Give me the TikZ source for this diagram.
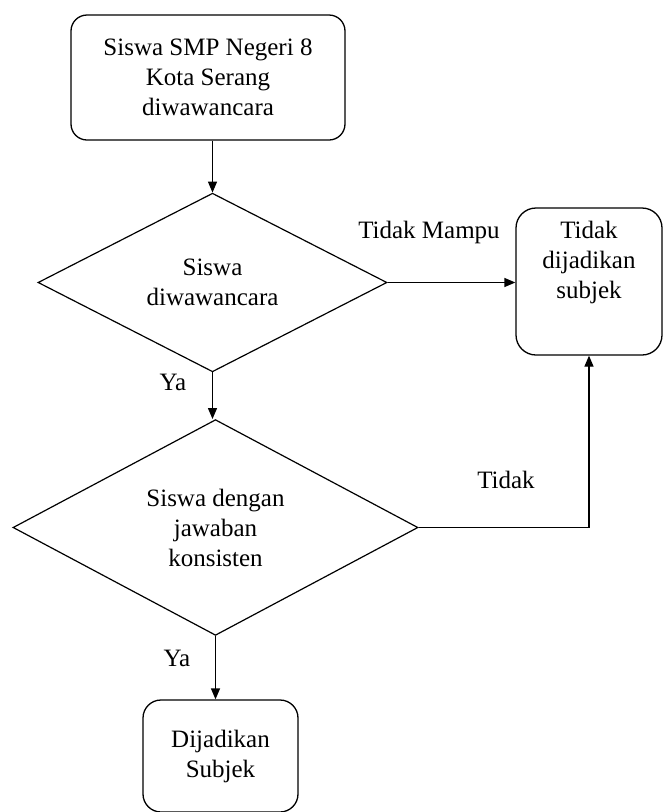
\documentclass[tikz,border=0pt]{standalone}
\usepackage{fontspec}
\setmainfont{Liberation Serif}
\usetikzlibrary{shapes.geometric,arrows.meta}
\tikzset{
  every node/.style={font=\fontsize{25}{30}\selectfont},
  boxnode/.style={draw, line width=1.3pt, rounded corners=16pt, align=center, inner sep=0pt},
  decnode/.style={draw, line width=1.2pt, diamond, align=center, inner sep=0pt},
  conn/.style={line width=1.3pt, -{Triangle[length=11pt,width=9pt]}},
  lbl/.style={inner sep=0pt}
}
\begin{document}
\begin{tikzpicture}[x=1pt,y=-1pt]
\useasboundingbox (0,0) rectangle (664,812);
\node[boxnode, minimum width=274pt, minimum height=125pt] (tb) at (208,77.5)
  {Siswa SMP Negeri 8\\Kota Serang\\diwawancara};
\node[decnode, minimum width=349pt, minimum height=151pt] (d1) at (212.5,282.5)
  {Siswa\\diwawancara};
\node[boxnode, rounded corners=20pt, minimum width=146pt, minimum height=147pt] (rb) at (589,281.5)
  {Tidak\\dijadikan\\subjek\\[14pt]};
\node[decnode, minimum width=405pt, minimum height=209pt] (d2) at (215.5,527.5)
  {Siswa dengan\\jawaban\\konsisten};
\node[boxnode, rounded corners=18pt, minimum width=155pt, minimum height=112pt] (bb) at (220.5,756)
  {Dijadikan\\Subjek};
\draw[conn] (d1.north |- tb.south) -- (d1.north);
\draw[conn] (d1.east) -- (d1.east -| rb.west);
\draw[conn] (d1.south) -- (d1.south |- d2.north);
\draw[conn] (d2.east) -| (rb.south);
\draw[conn] (d2.south) -- (d2.south |- bb.north);
\node[lbl] (l1) at (429,232) {Tidak Mampu};
\node[lbl] (l2) at (173,382) {Ya};
\node[lbl] (l3) at (506,480) {Tidak};
\node[lbl] (l4) at (177,658) {Ya};
\end{tikzpicture}
\end{document}
